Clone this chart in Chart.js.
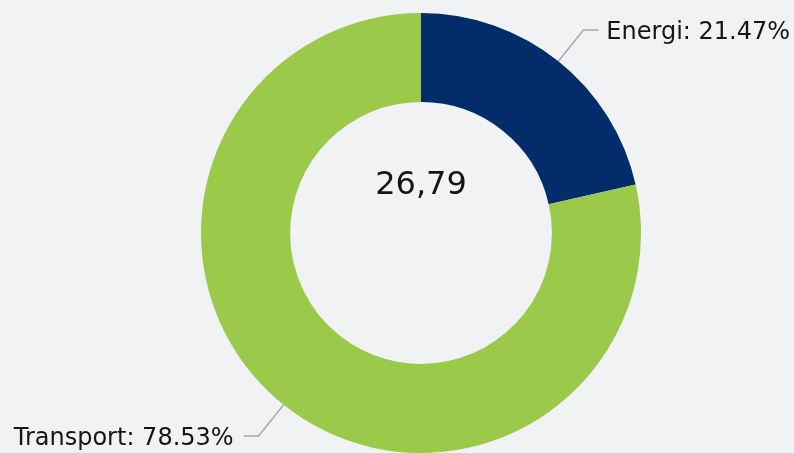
<!DOCTYPE html>
<html>
<head>
<meta charset="utf-8">
<script src="https://cdn.jsdelivr.net/npm/chart.js@4"></script>
<style>
    html, body { margin: 0; padding: 0; background: #f1f2f4; }
    #wrap { width: 794px; height: 453px; position: relative; }
</style>
</head>
<body>
<div id="wrap"><canvas id="donutChart"></canvas></div>
<script>
// Chart data
const categories = ['Energi', 'Transport'];
const shares = [21.47, 78.53];
const sliceColors = ['#032c6b', '#9bc94a'];
const centerLabel = '26,79';

// Draws the outside labels with elbow connector lines and the center value
const labelPlugin = {
    id: 'outsideLabels',
    afterDraw(chart) {
        const ctx = chart.ctx;
        const meta = chart.getDatasetMeta(0);
        ctx.save();
        ctx.font = '24px "DejaVu Sans", Verdana, sans-serif';
        ctx.textBaseline = 'middle';
        meta.data.forEach((arc, i) => {
            const mid = (arc.startAngle + arc.endAngle) / 2;
            const cos = Math.cos(mid), sin = Math.sin(mid);
            const r = arc.outerRadius;
            const x0 = arc.x + cos * r, y0 = arc.y + sin * r;
            const x1 = arc.x + cos * (r + 40), y1 = arc.y + sin * (r + 40);
            const right = cos >= 0;
            const x2 = x1 + (right ? 15 : -15);

            ctx.strokeStyle = '#a9a9a9';
            ctx.lineWidth = 1.5;
            ctx.beginPath();
            ctx.moveTo(x0, y0);
            ctx.lineTo(x1, y1);
            ctx.lineTo(x2, y1);
            ctx.stroke();

            ctx.fillStyle = '#151515';
            ctx.textAlign = right ? 'left' : 'right';
            ctx.fillText(categories[i] + ': ' + shares[i].toFixed(2) + '%', x2 + (right ? 8 : -10), y1 + 3);
        });

        // center value sits in the upper part of the hole
        const a = meta.data[0];
        ctx.font = '32px "DejaVu Sans", Verdana, sans-serif';
        ctx.textAlign = 'center';
        ctx.fillStyle = '#151515';
        ctx.fillText(centerLabel, a.x, a.y - 47);
        ctx.restore();
    }
};

document.addEventListener('DOMContentLoaded', function() {
    const ctx = document.getElementById('donutChart').getContext('2d');
    new Chart(ctx, {
        type: 'doughnut',
        data: {
            labels: categories,
            datasets: [{
                data: shares,
                backgroundColor: sliceColors,
                borderWidth: 0
            }]
        },
        options: {
            responsive: true,
            maintainAspectRatio: false,
            animation: false,
            cutout: '59.5%',
            layout: {
                padding: { top: 13, bottom: 0, left: 48, right: 0 }
            },
            plugins: {
                legend: { display: false },
                tooltip: { enabled: false }
            }
        },
        plugins: [labelPlugin]
    });
});
</script>
</body>
</html>
